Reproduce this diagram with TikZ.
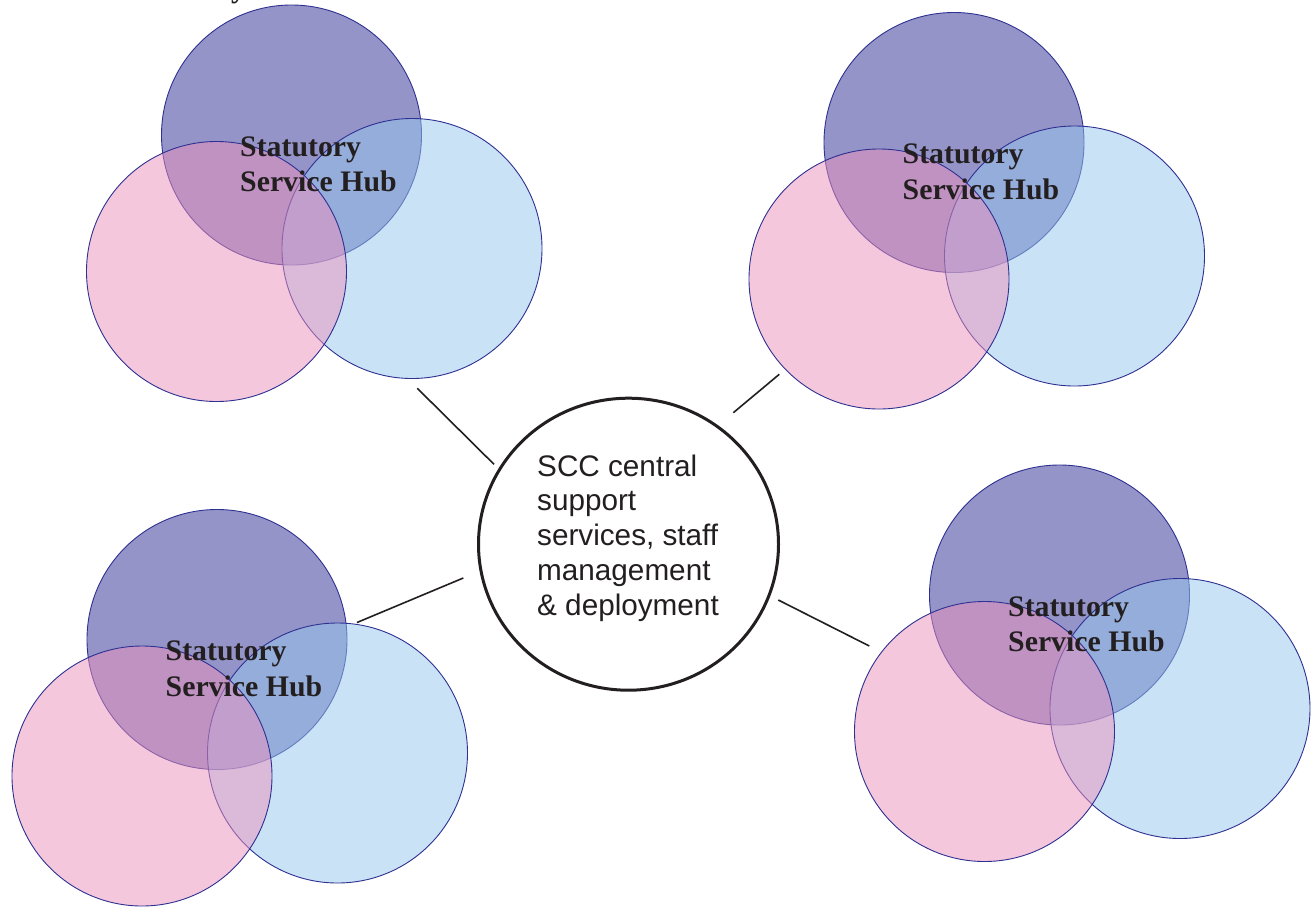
\documentclass[tikz,border=0pt]{standalone}
\usepackage{fontspec}
\setmainfont{Liberation Serif}
\newfontfamily\sccsans{Liberation Sans}
\usetikzlibrary{shapes.geometric}
\definecolor{purpc}{RGB}{148,148,200}
\definecolor{bluec}{RGB}{151,199,237}
\definecolor{pinkc}{RGB}{237,145,189}
\definecolor{vennline}{RGB}{46,49,146}
\definecolor{inkc}{RGB}{35,31,32}
\tikzset{
  venn/.style={circle, inner sep=0pt, minimum size=260pt, draw=vennline, line width=0.9pt},
  purpcirc/.style={venn, fill=purpc},
  bluecirc/.style={venn, fill=bluec, fill opacity=0.5},
  pinkcirc/.style={venn, fill=pinkc, fill opacity=0.5},
  hubtext/.style={anchor=base west, inner sep=0pt, text=inkc, font=\fontsize{29.8}{35.5}\selectfont\bfseries},
  conn/.style={draw=inkc, line width=1.6pt},
  sccbox/.style={ellipse, inner sep=0pt, minimum width=300pt, minimum height=292pt, draw=inkc, line width=3pt, fill=white},
  scctext/.style={align=left, inner sep=0pt, text=inkc, font=\sccsans\fontsize{29.7}{34.75}\selectfont}
}
\newcommand\hubgroup[3]{%
  \node[purpcirc] (#1p) at (#2,#3) {};
  \node[bluecirc] (#1b) at ([shift={(120.5,113.5)}]#1p.center) {};
  \node[pinkcirc] (#1k) at ([shift={(-75,136.5)}]#1p.center) {};
  \node[hubtext] (#1t1) at ([shift={(-51.5,21)}]#1p.center) {Statutory};
  \node[hubtext] (#1t2) at ([shift={(-51.5,56.5)}]#1p.center) {Service Hub};
}
\begin{document}
\begin{tikzpicture}[x=1pt,y=-1pt]
\useasboundingbox (0,0) rectangle (1312,906);
\fill[white] (0,0) rectangle (1312,906);
% cropped fragment at top edge
\node[hubtext] (topfrag) at (231,-2.5) {y};
% hubs
\hubgroup{tl}{291.5}{135}
\hubgroup{tr}{954}{142.5}
\hubgroup{bl}{217}{639.5}
\hubgroup{br}{1059.5}{595}
% central
\node[sccbox] (scc) at (628.5,544.2) {};
\node[scctext] (scct) at (628,538) {SCC central\\support\\services, staff\\management\\\& deployment};
% connector end points
\coordinate (ctl) at (417.3,388.3);
\coordinate (stl) at (494,464.3);
\coordinate (ctr) at (779.3,374.3);
\coordinate (str) at (733.3,412.7);
\coordinate (cbl) at (357,622.5);
\coordinate (sbl) at (463.3,578);
\coordinate (cbr) at (869.3,646);
\coordinate (sbr) at (778.3,600);
\draw[conn] (ctl) -- (stl);
\draw[conn] (ctr) -- (str);
\draw[conn] (cbl) -- (sbl);
\draw[conn] (cbr) -- (sbr);
\end{tikzpicture}
\end{document}
